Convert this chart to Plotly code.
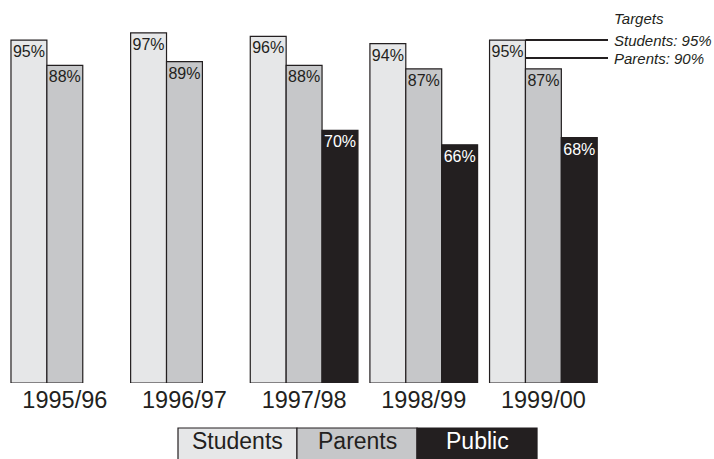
import plotly.graph_objects as go

# Survey satisfaction by school year (percent)
years = ["1995/96", "1996/97", "1997/98", "1998/99", "1999/00"]
students = [95, 97, 96, 94, 95]
parents = [88, 89, 88, 87, 87]
public = [None, None, 70, 66, 68]

# Targets
target_names = ["Students", "Parents"]
target_values = [95, 90]

series_names = ["Students", "Parents", "Public"]
series_values = [students, parents, public]
fill_colors = ["#e6e7e8", "#c6c7c9", "#231f20"]
text_colors = ["#231f20", "#231f20", "#ffffff"]
edge = "#231f20"
font_family = "Liberation Sans, Arial, Helvetica, sans-serif"

fig = go.Figure()
for name, vals, fc, tc in zip(series_names, series_values, fill_colors, text_colors):
    fig.add_trace(go.Bar(
        name=name,
        x=years,
        y=vals,
        text=[f"{v}%" if v is not None else "" for v in vals],
        textposition="inside",
        insidetextanchor="end",
        constraintext="none",
        textangle=0,
        textfont=dict(family=font_family, size=16, color=tc, weight="normal"),
        marker=dict(color=fc, line=dict(color=edge, width=1.2)),
        showlegend=False,
        hoverinfo="skip",
    ))

# Target reference lines, from the right edge of the last Students bar
last = len(years) - 1
x_start = last - 0.15
x_end = last + 0.54
for tname, tval in zip(target_names, target_values):
    fig.add_shape(type="line", xref="x", yref="y",
                  x0=x_start, x1=x_end, y0=tval, y1=tval,
                  line=dict(color=edge, width=2), layer="above")
    fig.add_annotation(x=x_end, y=tval, xref="x", yref="y",
                       text=f"<i>{tname}: {tval}%</i>", showarrow=False,
                       xanchor="left", yanchor="middle", xshift=4,
                       font=dict(family=font_family, size=15, color=edge))
fig.add_annotation(x=x_end, y=1.01, xref="x", yref="paper",
                   text="<i>Targets</i>", showarrow=False,
                   xanchor="left", yanchor="middle", xshift=4,
                   font=dict(family=font_family, size=15, color=edge))

# Legend drawn as a row of adjoining labelled boxes
leg_x = [0.2869, 0.4842, 0.6833, 0.8823]
leg_y0, leg_y1 = -0.215, -0.1247
for i, (name, fc, tc) in enumerate(zip(series_names, fill_colors, text_colors)):
    fig.add_shape(type="rect", xref="paper", yref="paper",
                  x0=leg_x[i], x1=leg_x[i + 1], y0=leg_y0, y1=leg_y1,
                  fillcolor=fc, line=dict(color=edge, width=1.2))
    fig.add_annotation(x=(leg_x[i] + leg_x[i + 1]) / 2, y=(leg_y0 + leg_y1) / 2 + 0.01,
                       xref="paper", yref="paper", text=name, showarrow=False,
                       xanchor="center", yanchor="middle",
                       font=dict(family=font_family, size=23, color=tc))

fig.update_layout(
    width=714, height=459,
    margin=dict(l=5, r=106, t=22, b=76),
    paper_bgcolor="white", plot_bgcolor="white",
    barmode="group", bargap=0.1, bargroupgap=0,
    xaxis=dict(type="category", range=[-0.5, 4.54], showgrid=False, zeroline=False,
               showline=False, ticks="",
               tickfont=dict(family=font_family, size=23.5, color=edge)),
    yaxis=dict(range=[0, 100], visible=False, showgrid=False, zeroline=False),
)

fig.write_html("out.html")
